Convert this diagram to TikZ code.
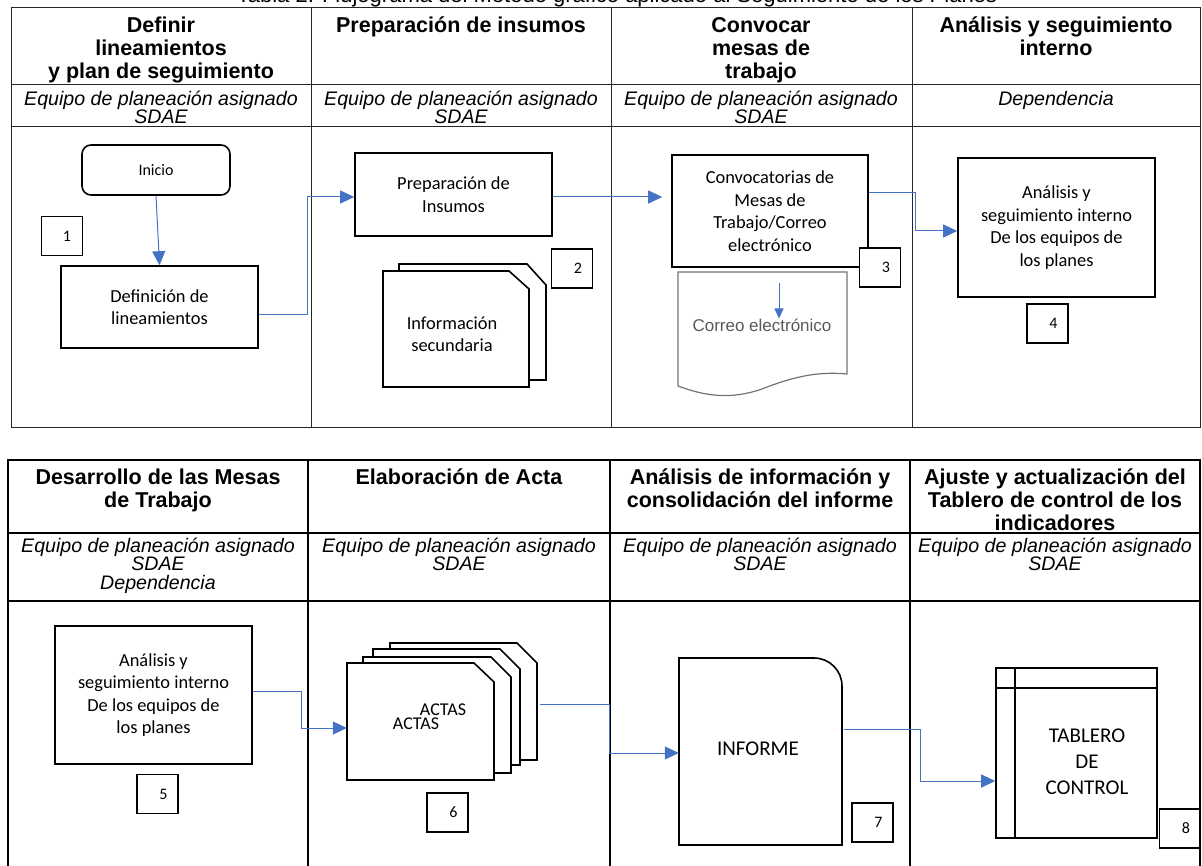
\documentclass[tikz,border=0pt]{standalone}
\usepackage{fontspec}
\setmainfont{Carlito}
\newfontfamily\arialf{Liberation Sans}
\usetikzlibrary{arrows.meta,calc}
\definecolor{flowblue}{RGB}{68,114,196}
\begin{document}
\begin{tikzpicture}[x=1pt,y=-1pt,
  grid/.style={line width=1pt, draw=black!85},
  gridthick/.style={line width=1.7pt, draw=black},
  hdr/.style={font=\arialf\bfseries\fontsize{21.5}{23}\selectfont, align=center, anchor=north, inner sep=0pt},
  role/.style={font=\arialf\itshape\fontsize{19.6}{18.3}\selectfont, align=center, anchor=north, inner sep=0pt},
  box/.style={draw, line width=1.6pt, align=center, font=\fontsize{18.4}{22.5}\selectfont, inner sep=2pt},
  num/.style={draw, line width=1.3pt, minimum width=41pt, minimum height=39pt, font=\fontsize{16}{18}\selectfont, inner sep=0pt},
  docline/.style={draw, line width=1.6pt, fill=white},
  plain/.style={align=center, font=\fontsize{18.4}{22.5}\selectfont, inner sep=0pt},
  flow/.style={draw=flowblue, line width=1pt, -{Triangle[length=14pt,width=13pt]}},
]
\useasboundingbox (0,0) rectangle (1202,866);
\clip (0,0) rectangle (1202,866);
% title (clipped)
\node[font=\arialf\fontsize{22}{24}\selectfont, inner sep=0pt] (title) at (617,-3) {Tabla 2. Flujograma del Método gráfico aplicado al Seguimiento de los Planes};
% ---------- top table ----------
\draw[grid] (11,8) rectangle (1200,427);
\draw[grid] (11,85) -- (1200,85) (11,127) -- (1200,127);
\draw[grid] (311,8) -- (311,427) (611,8) -- (611,427) (912,8) -- (912,427);
\node[hdr] (h1) at (161,17) {Definir\\lineamientos\\y plan de seguimiento};
\node[hdr] (h2) at (461,17) {Preparación de insumos};
\node[hdr] (h3) at (761,17) {Convocar\\mesas de\\trabajo};
\node[hdr] (h4) at (1056,17) {Análisis y seguimiento\\interno};
\node[role] (r1) at (161,91) {Equipo de planeación asignado\\SDAE};
\node[role] (r2) at (461,91) {Equipo de planeación asignado\\SDAE};
\node[role] (r3) at (761,91) {Equipo de planeación asignado\\SDAE};
\node[role] (r4) at (1056,91) {Dependencia};
% column 1
\node[box, rounded corners=9pt, minimum width=148pt, minimum height=50pt, font=\fontsize{16}{18}\selectfont] (ini) at (156,170) {Inicio};
\node[num] (n1) at (62,236) {\hspace*{10pt}1};
\node[box, minimum width=197pt, minimum height=82pt] (def) at (159.5,307) {Definición de\\lineamientos};
% column 2
\node[box, minimum width=197pt, minimum height=83pt] (prep) at (453.5,194.5) {Preparación de\\Insumos};
\node[num] (n2) at (572,268.5) {\hspace*{12pt}2};
\draw[docline] (399,264) -- (527,264) -- (546,285) -- (546,380) -- (399,380) -- cycle;
\draw[docline] (383,271) -- (509,271) -- (529,289) -- (529,387) -- (383,387) -- cycle;
\node[plain] (info) at (452,334) {Información\\secundaria};
% column 3
\node[box, minimum width=196pt, minimum height=112pt] (conv) at (770,211) {Convocatorias de\\Mesas de\\Trabajo/Correo\\electrónico};
\node[num, fill=white] (n3) at (880,267.5) {\hspace*{12pt}3};
\draw[black!55, line width=1.2pt] (678,272) -- (847,272) -- (847,374) .. controls (815,371) and (790,378) .. (762,389) .. controls (730,400) and (705,396) .. (678,386) -- cycle;
\node[font=\arialf\fontsize{17}{19}\selectfont, text=black!65, inner sep=0pt] (correo) at (762,325) {Correo electrónico};
\coordinate (cin) at (779,283);
\draw[flow, -{Triangle[length=10pt,width=9pt]}] (cin) -- (correo.north -| cin);
% column 4
\node[box, minimum width=197pt, minimum height=139pt] (anal) at (1056.5,227.5) {Análisis y\\seguimiento interno\\De los equipos de\\los planes};
\node[num] (n4) at (1047.5,323.5) {\hspace*{12pt}4};
% connectors
\draw[flow] (ini.south) -- (def.north);
\draw[flow] ($(def.east)+(0,8)$) -- ++(49,0) |- ($(prep.west)+(0,2.5)$);
\coordinate (pout) at ($(prep.east)+(0,2.5)$);
\draw[flow, shorten >=9pt] (pout) -- (pout -| conv.west);
\draw[flow] ($(conv.east)+(0,-18)$) -- ++(47,0) |- ($(anal.west)+(0,3.5)$);
% ---------- bottom table ----------
\draw[gridthick] (8,870) -- (8,460) -- (1200,460) -- (1200,870);
\draw[gridthick] (8,533) -- (1200,533) (8,601) -- (1200,601);
\draw[gridthick] (308,460) -- (308,870) (610,460) -- (610,870) (910,460) -- (910,870);
\node[hdr] (h5) at (158,469) {Desarrollo de las Mesas\\de Trabajo};
\node[hdr] (h6) at (459,469) {Elaboración de Acta};
\node[hdr] (h7) at (760,469) {Análisis de información y\\consolidación del informe};
\node[hdr] (h8) at (1055,469) {Ajuste y actualización del\\Tablero de control de los\\indicadores};
\node[role] (r5) at (158,538) {Equipo de planeación asignado\\SDAE\\Dependencia};
\node[role] (r6) at (459,538) {Equipo de planeación asignado\\SDAE};
\node[role] (r7) at (760,538) {Equipo de planeación asignado\\SDAE};
\node[role] (r8) at (1055,538) {Equipo de planeación asignado\\SDAE};
% column 5
\node[box, minimum width=197pt, minimum height=138pt] (anal5) at (153.5,695) {Análisis y\\seguimiento interno\\De los equipos de\\los planes};
\node[num] (n5) at (157.5,794) {\hspace*{12pt}5};
% column 6 : stack of actas
\draw[docline] (390,643) -- (517,643) -- (537,663) -- (537,760) -- (390,760) -- cycle;
\draw[docline] (373,649) -- (500,649) -- (520,669) -- (520,765) -- (373,765) -- cycle;
\draw[docline] (363,657) -- (491,657) -- (511,677) -- (511,773) -- (363,773) -- cycle;
\draw[docline] (347,663) -- (474,663) -- (494,682) -- (494,780) -- (347,780) -- cycle;
\node[inner sep=0pt, minimum width=147pt, minimum height=117pt] (act) at (420.5,721.5) {};
\node[inner sep=0pt, minimum width=147pt, minimum height=117pt] (act4) at (463.5,701.5) {};
\node[plain, font=\fontsize{18}{20}\selectfont] (actasA) at (443,710) {ACTAS};
\node[plain, font=\fontsize{18}{20}\selectfont] (actasB) at (416,724) {ACTAS};
\node[num] (n6) at (447.5,812.5) {\hspace*{12pt}6};
% column 7 : informe
\draw[line width=1.6pt] (679,845) -- (679,658) [rounded corners=28pt] -- (842,658) [sharp corners] -- (842,845) -- cycle;
\node[inner sep=0pt, minimum width=163pt, minimum height=187pt] (inf) at (760.5,751.5) {};
\node[plain, font=\fontsize{21}{26}\selectfont] (inft) at (758,749) {INFORME};
\node[num] (n7) at (872.5,822.5) {\hspace*{12pt}7};
% column 8 : tablero
\node[draw, line width=1.6pt, inner sep=0pt, minimum width=161pt, minimum height=170pt] (tab) at (1076.5,753) {};
\draw[line width=1.6pt] (tab.north west) ++(20,0) -- ($(tab.south west)+(20,0)$);
\draw[line width=1.6pt] (tab.north west) ++(0,21) -- ($(tab.north east)+(0,21)$);
\node[plain, font=\fontsize{21}{26}\selectfont] (tabt) at (1087,762) {TABLERO\\DE\\CONTROL};
\node[num] (n8) at (1180,828.5) {\hspace*{12pt}8};
% connectors
\draw[flow] ($(anal5.east)+(0,-4)$) -- ++(49,0) |- ($(act.west)+(0,6.5)$);
\draw[flow] ($(act4.east)+(3,2.5)$) -- ++(69,0) |- ($(inf.west)+(0,1.5)$);
\draw[flow] ($(inf.east)+(2,-22.5)$) -- ++(76,0) |- ($(tab.west)+(0,28)$);
\end{tikzpicture}
\end{document}
